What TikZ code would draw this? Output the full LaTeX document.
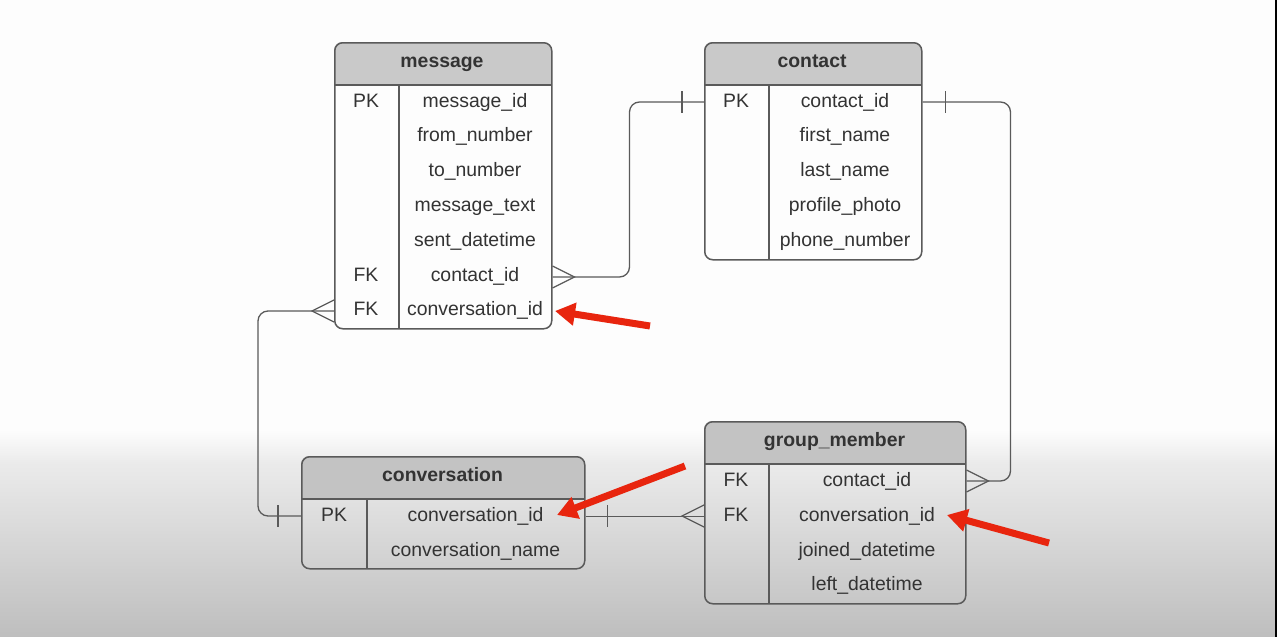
\documentclass[tikz,border=0pt]{standalone}
\usepackage{fontspec}
\setmainfont{Liberation Sans}
\usetikzlibrary{arrows.meta}
\definecolor{lc}{HTML}{5A5A5A}
\definecolor{tc}{HTML}{333333}
\definecolor{rc}{HTML}{E8250E}
\definecolor{bgA}{HTML}{FDFDFD}
\definecolor{bgM}{HTML}{EBEBEB}
\definecolor{bgB}{HTML}{BEBEBE}
\definecolor{hA}{HTML}{C9C9C9}
\definecolor{hB}{HTML}{C3C3C3}
\begin{document}
\begin{tikzpicture}[x=1pt,y=-1pt,
  tbl/.style={draw=lc,line width=1.5pt,rounded corners=8pt,inner sep=0pt,anchor=north west},
  hdrA/.style={fill=hA},
  hdrB/.style={fill=hB},
  sep/.style={draw=lc,line width=1.5pt},
  conn/.style={draw=lc,line width=1.3pt},
  hd/.style={font=\fontsize{19.4}{23}\selectfont\bfseries,text=tc,anchor=base,inner sep=0pt},
  fld/.style={font=\fontsize{19.4}{23}\selectfont,text=tc,anchor=base,inner sep=0pt},
  redarrow/.style={draw=rc,line width=7pt,-{Triangle[length=20pt,width=22pt]}}]
\useasboundingbox (0,0) rectangle (1277,637);
% background
\fill[bgA] (0,0) rectangle (1277,430);
\shade[top color=bgA,bottom color=bgM] (0,430) rectangle (1277,462);
\shade[top color=bgM,bottom color=bgB] (0,462) rectangle (1277,637);
\fill[black] (1275,0) rectangle (1277,637);

% ---------- message
\begin{scope}\clip (334,42) rectangle (551,85);
\fill[hdrA,rounded corners=8pt] (334,42) rectangle (551,328);\end{scope}
\node[tbl,minimum width=217pt,minimum height=286pt] (msg) at (334,42) {};
\draw[sep] (334,85) -- (551,85) (399,85) -- (399,328);
\node[hd] (msgh) at (442,67) {message};
\node[fld] (m1k) at (366,107) {PK};
\node[fld] (m1) at (475,107) {message\_id};
\node[fld] (m2) at (475,141.8) {from\_number};
\node[fld] (m3) at (475,176.6) {to\_number};
\node[fld] (m4) at (475,211.4) {message\_text};
\node[fld] (m5) at (475,246.2) {sent\_datetime};
\node[fld] (m6k) at (366,281) {FK};
\node[fld] (m6) at (475,281) {contact\_id};
\node[fld] (m7k) at (366,315.8) {FK};
\node[fld] (m7) at (475,315.8) {conversation\_id};

% ---------- contact
\begin{scope}\clip (704,42) rectangle (921,85);
\fill[hdrA,rounded corners=8pt] (704,42) rectangle (921,259);\end{scope}
\node[tbl,minimum width=217pt,minimum height=217pt] (con) at (704,42) {};
\draw[sep] (704,85) -- (921,85) (769,85) -- (769,259);
\node[hd] (conh) at (812,67) {contact};
\node[fld] (c1k) at (736,107) {PK};
\node[fld] (c1) at (845,107) {contact\_id};
\node[fld] (c2) at (845,141.8) {first\_name};
\node[fld] (c3) at (845,176.6) {last\_name};
\node[fld] (c4) at (845,211.4) {profile\_photo};
\node[fld] (c5) at (845,246.2) {phone\_number};

% ---------- conversation
\begin{scope}\clip (301,456) rectangle (584,499);
\fill[hdrB,rounded corners=8pt] (301,456) rectangle (584,568);\end{scope}
\node[tbl,minimum width=283pt,minimum height=112pt] (cv) at (301,456) {};
\draw[sep] (301,499) -- (584,499) (367,499) -- (367,568);
\node[hd] (cvh) at (442.5,481) {conversation};
\node[fld] (v1k) at (334,521) {PK};
\node[fld] (v1) at (475.5,521) {conversation\_id};
\node[fld] (v2) at (475.5,556) {conversation\_name};

% ---------- group_member
\begin{scope}\clip (704,421) rectangle (965,464);
\fill[hdrB,rounded corners=8pt] (704,421) rectangle (965,603);\end{scope}
\node[tbl,minimum width=261pt,minimum height=182pt] (gm) at (704,421) {};
\draw[sep] (704,464) -- (965,464) (769,464) -- (769,603);
\node[hd] (gmh) at (834.5,446) {group\_member};
\node[fld] (g1k) at (736,486) {FK};
\node[fld] (g1) at (867,486) {contact\_id};
\node[fld] (g2k) at (736,521) {FK};
\node[fld] (g2) at (867,521) {conversation\_id};
\node[fld] (g3) at (867,556) {joined\_datetime};
\node[fld] (g4) at (867,590.5) {left\_datetime};

% ---------- ports
\coordinate (mC) at (msg.east |- 0,277);
\coordinate (mV) at (msg.west |- 0,311);
\coordinate (cL) at (con.west |- 0,102);
\coordinate (cR) at (con.east |- 0,102);
\coordinate (vL) at (cv.west |- 0,516);
\coordinate (vR) at (cv.east |- 0,516);
\coordinate (gC) at (gm.east |- 0,481);
\coordinate (gV) at (gm.west |- 0,516);

% ---------- connectors
\begin{scope}[rounded corners=10pt]
\draw[conn] (mC) -- ++(77,0) |- (cL);
\draw[conn] (cR) -- ++(88,0) |- (gC);
\draw[conn] (mV) -- ++(-76,0) |- (vL);
\end{scope}
\draw[conn,line width=1pt] (vR) -- (gV);
% crow's feet
\draw[conn] (mC) ++(0,-11) -- ++(22,11) -- ++(-22,11);
\draw[conn] (gC) ++(0,-11) -- ++(22,11) -- ++(-22,11);
\draw[conn] (mV) ++(0,-11) -- ++(-22,11) -- ++(22,11);
\draw[conn] (gV) ++(0,-11) -- ++(-22,11) -- ++(22,11);
% bars
\draw[conn] (cL) ++(-22,-11) -- ++(0,22);
\draw[conn] (cR) ++(23,-11) -- ++(0,22);
\draw[conn] (vL) ++(-23,-11) -- ++(0,22);
\draw[conn] (vR) ++(22,-11) -- ++(0,22);

% ---------- red arrows
\coordinate (a1) at (650,326);
\coordinate (a2) at (685,466);
\coordinate (a3) at (1049,543);
\coordinate (t1) at (555,311);
\coordinate (t2) at (557,515);
\coordinate (t3) at (947,515);
\draw[redarrow] (a1) -- (t1);
\draw[redarrow] (a2) -- (t2);
\draw[redarrow] (a3) -- (t3);
\end{tikzpicture}
\end{document}
